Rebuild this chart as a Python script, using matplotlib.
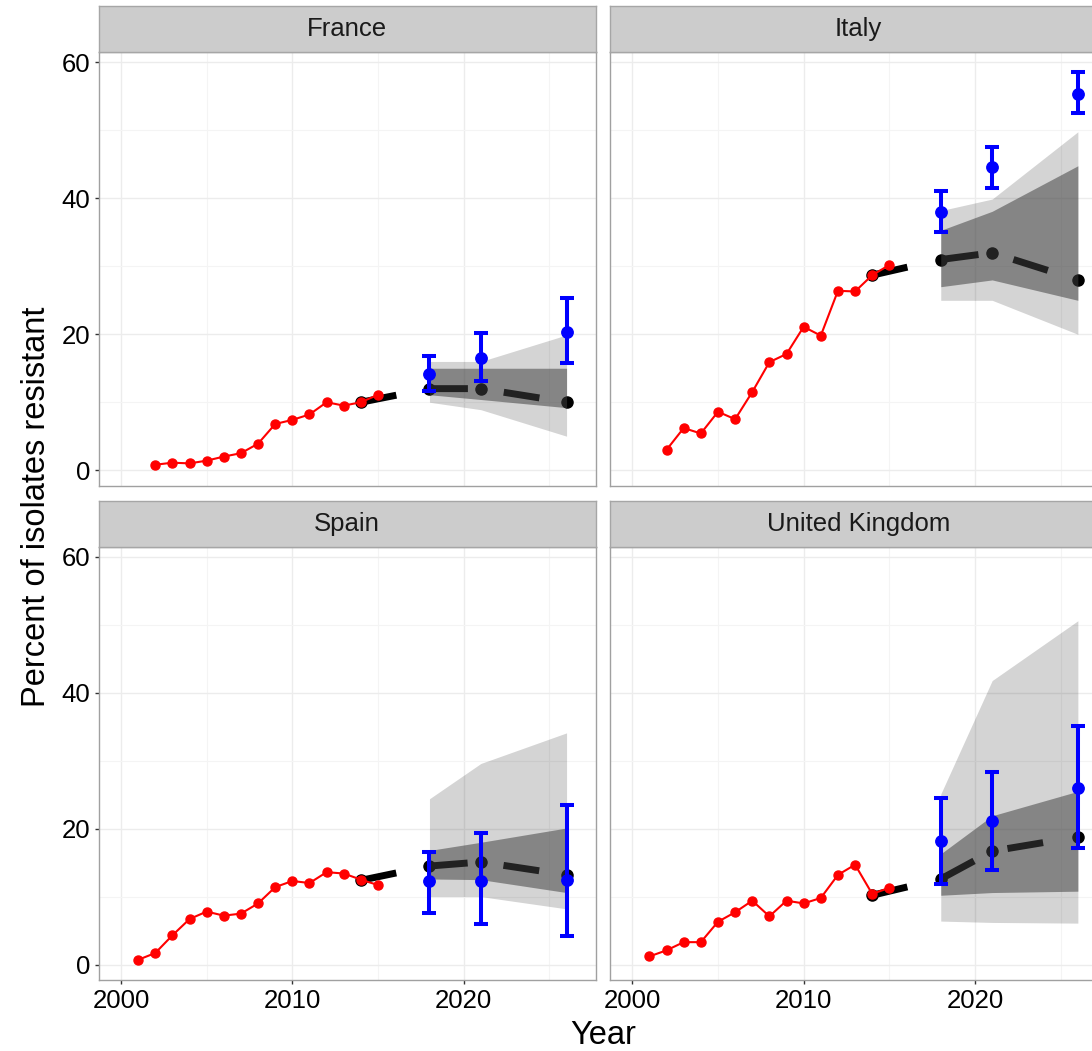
import numpy as np
import matplotlib
matplotlib.use('Agg')
import matplotlib.pyplot as plt
from matplotlib.ticker import MultipleLocator

plt.rcParams['font.family'] = ['Liberation Sans', 'DejaVu Sans']

# observed resistance (red)
obs_years_fr = list(range(2002, 2016))
obs_fr = [0.8, 1.1, 1.0, 1.4, 2.0, 2.5, 3.9, 6.8, 7.4, 8.2, 10.0, 9.5, 10.0, 11.1]
obs_years_it = list(range(2002, 2016))
obs_it = [3.0, 6.2, 5.4, 8.6, 7.5, 11.5, 15.9, 17.1, 21.1, 19.8, 26.4, 26.3, 28.7, 30.2]
obs_years_es = list(range(2001, 2016))
obs_es = [0.7, 1.7, 4.3, 6.7, 7.8, 7.2, 7.5, 9.0, 11.4, 12.3, 12.0, 13.6, 13.4, 12.5, 11.7]
obs_years_uk = list(range(2001, 2016))
obs_uk = [1.2, 2.1, 3.3, 3.3, 6.3, 7.7, 9.4, 7.1, 9.4, 9.0, 9.8, 13.2, 14.7, 10.4, 11.3]

# forecast median (black dashed)
fc_years = [2014, 2018, 2021, 2026]
fc_fr = [10.0, 12.0, 12.0, 10.0]
fc_it = [28.7, 31.0, 32.0, 28.0]
fc_es = [12.4, 14.5, 15.1, 13.2]
fc_uk = [10.2, 12.6, 16.7, 18.8]

# forecast intervals (grey ribbons)
band_years = [2018, 2021, 2026]
lo95_fr, hi95_fr = [10.0, 8.9, 5.0], [16.0, 16.0, 19.9]
lo50_fr, hi50_fr = [11.1, 10.4, 9.2], [15.0, 15.0, 15.0]
lo95_it, hi95_it = [25.0, 25.0, 20.0], [38.2, 39.9, 49.8]
lo50_it, hi50_it = [27.0, 28.0, 25.0], [35.3, 38.1, 44.8]
lo95_es, hi95_es = [10.0, 10.0, 8.2], [24.4, 29.6, 34.1]
lo50_es, hi50_es = [12.6, 12.5, 10.6], [16.8, 18.0, 20.1]
lo95_uk, hi95_uk = [6.4, 6.2, 6.1], [25.1, 41.8, 50.6]
lo50_uk, hi50_uk = [10.2, 10.6, 10.8], [16.3, 21.9, 25.5]

# other estimates (blue)
est_years = [2018, 2021, 2026]
est_fr, est_lo_fr, est_hi_fr = [14.2, 16.5, 20.4], [11.7, 13.1, 15.8], [16.8, 20.2, 25.3]
est_it, est_lo_it, est_hi_it = [38.0, 44.6, 55.4], [35.0, 41.6, 52.5], [41.1, 47.6, 58.6]
est_es, est_lo_es, est_hi_es = [12.3, 12.3, 12.5], [7.6, 5.9, 4.2], [16.5, 19.3, 23.5]
est_uk, est_lo_uk, est_hi_uk = [18.2, 21.2, 26.0], [11.9, 13.9, 17.2], [24.5, 28.4, 35.1]

panels = [
    ("France", obs_years_fr, obs_fr, fc_fr, lo95_fr, hi95_fr, lo50_fr, hi50_fr, est_fr, est_lo_fr, est_hi_fr),
    ("Italy", obs_years_it, obs_it, fc_it, lo95_it, hi95_it, lo50_it, hi50_it, est_it, est_lo_it, est_hi_it),
    ("Spain", obs_years_es, obs_es, fc_es, lo95_es, hi95_es, lo50_es, hi50_es, est_es, est_lo_es, est_hi_es),
    ("United Kingdom", obs_years_uk, obs_uk, fc_uk, lo95_uk, hi95_uk, lo50_uk, hi50_uk, est_uk, est_lo_uk, est_hi_uk),
]

W, H = 1092, 1051
fig = plt.figure(figsize=(W / 100, H / 100), dpi=100)
fig.patch.set_facecolor('white')

# panel positions in pixels: (left, top); right column runs off the canvas like the original
pw, ph, sh = 497, 433.5, 46
lefts = [98.7, 610, 98.7, 610]
tops = [52.3, 52.3, 546.7, 546.7]

for i, (name, oy, ov, fc, l95, h95, l50, h50, est, elo, ehi) in enumerate(panels):
    left, top = lefts[i], tops[i]
    ax = fig.add_axes([left / W, 1 - (top + ph) / H, pw / W, ph / H])
    ax.set_xlim(1998.7, 2027.7)
    ax.set_ylim(-2.3, 61.5)
    ax.xaxis.set_major_locator(MultipleLocator(10))
    ax.xaxis.set_minor_locator(MultipleLocator(5))
    ax.yaxis.set_major_locator(MultipleLocator(20))
    ax.yaxis.set_minor_locator(MultipleLocator(10))
    ax.grid(which='major', color='#ececec', lw=1.0, zorder=0)
    ax.grid(which='minor', color='#f4f4f4', lw=0.8, zorder=0)
    ax.set_axisbelow(True)
    for sp in ax.spines.values():
        sp.set_color('#a0a0a0')
        sp.set_linewidth(1.0)

    # forecast median, drawn under the ribbons
    ax.plot(fc_years, fc, color='black', lw=5, ls=(0, (5.2, 5.2)), zorder=2)
    ax.plot(fc_years, fc, 'o', color='black', ms=8, zorder=2)
    ax.fill_between(band_years, l95, h95, color='black', alpha=0.17, lw=0, zorder=3)
    ax.fill_between(band_years, l50, h50, color='#404040', alpha=0.53, lw=0, zorder=3)

    ax.plot(oy, ov, '-o', color='red', lw=1.5, ms=6.5, zorder=4)

    est = np.array(est)
    yerr = [est - np.array(elo), np.array(ehi) - est]
    ax.errorbar(est_years, est, yerr=yerr, fmt='o', color='blue', ms=8.2,
                elinewidth=2.9, capsize=4.8, capthick=2.9, zorder=5)

    ax.tick_params(which='minor', length=0)
    ax.tick_params(which='major', length=3, width=1, color='#333333',
                   labelsize=18.5, labelcolor='black', pad=3)
    if i % 2 == 1:
        ax.tick_params(axis='y', left=False, labelleft=False)
    if i < 2:
        ax.tick_params(axis='x', bottom=False, labelbottom=False)

    # facet strip
    sax = fig.add_axes([left / W, 1 - top / H, pw / W, sh / H])
    sax.set_facecolor('#cccccc')
    sax.set_xticks([])
    sax.set_yticks([])
    for sp in sax.spines.values():
        sp.set_color('#a6a6a6')
        sp.set_linewidth(1.0)
    sax.text(0.5, 0.5, name, transform=sax.transAxes, ha='center', va='center',
             fontsize=18.5, color='#1a1a1a')

fig.text(603 / W, 1 - 1036 / H, "Year", ha='center', va='center', fontsize=23.5)
fig.text(37 / W, 1 - 507 / H, "Percent of isolates resistant", ha='center', va='center',
         rotation=90, fontsize=23.5)

fig.savefig('out.png', dpi=100)
